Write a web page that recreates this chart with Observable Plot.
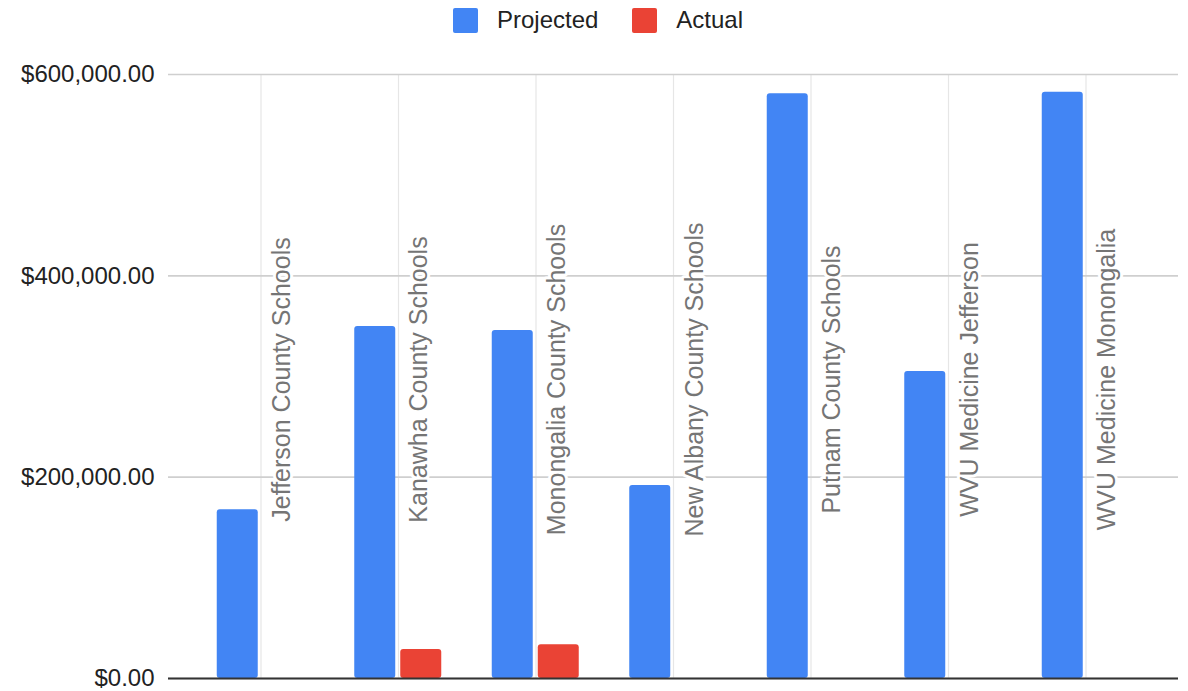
<!DOCTYPE html>
<html>
<head>
<meta charset="utf-8">
<script src="https://cdn.jsdelivr.net/npm/d3@7"></script>
<script src="https://cdn.jsdelivr.net/npm/@observablehq/plot@0.6"></script>
<style>
  html, body { margin: 0; padding: 0; background: #fff; }
  #legend { height: 40px; overflow: hidden; }
  #legend .lg-swatches { display: flex; justify-content: center; align-items: center; margin: 0; padding-left: 8px; min-height: 40px; height: 40px; font: 24px "Liberation Sans", Arial, sans-serif; color: #222; }
  #legend .lg-swatch { margin-right: 34px; align-items: center; }
  #legend .lg-swatch:last-child { margin-right: 0; }
  #legend .lg-swatch > svg { margin-right: 19px; }
  #legend .lg-swatch > svg rect { rx: 2px; }
  #chart svg { display: block; }
</style>
</head>
<body>
<div id="legend"></div>
<div id="chart"></div>
<script>
const categories = [
  "Jefferson County Schools",
  "Kanawha County Schools",
  "Monongalia County Schools",
  "New Albany County Schools",
  "Putnam County Schools",
  "WVU Medicine Jefferson",
  "WVU Medicine Monongalia"
];
const projected = [167600, 349700, 345700, 191700, 580800, 305000, 582400];
const actual = [null, 28800, 33500, null, null, null, null];
const seriesNames = ["Projected", "Actual"];
const seriesColors = ["#4285F4", "#EA4335"];
const yTicks = [0, 200000, 400000, 600000];

const projRows = categories.map((c, i) => ({category: c, value: projected[i]}));
const actRows = categories.map((c, i) => ({category: c, value: actual[i]}));

const legend = Plot.legend({
  color: {type: "ordinal", domain: seriesNames, range: seriesColors},
  legend: "swatches",
  swatchSize: 25,
  className: "lg"
});
document.getElementById("legend").appendChild(legend);

const chart = Plot.plot({
  width: 1188,
  height: 651,
  marginTop: 34,
  marginBottom: 13,
  marginLeft: 168,
  marginRight: 10,
  style: {fontFamily: "'Liberation Sans', Arial, sans-serif", fontSize: "24px", color: "#222", background: "#fff"},
  x: {domain: categories, type: "band", paddingInner: 0, paddingOuter: 0.1727, round: false, axis: null},
  y: {domain: [0, 600000], axis: null, label: null},
  marks: [
    Plot.gridX(categories, {stroke: "#e6e6e6", strokeOpacity: 1, strokeWidth: 1.2}),
    Plot.gridY(yTicks, {stroke: "#cfcfcf", strokeOpacity: 1, strokeWidth: 1.6}),
    Plot.axisY(yTicks, {tickFormat: d3.format("$,.2f"), tickSize: 0, tickPadding: 14, fontSize: 24, fill: "#222", label: null}),
    Plot.barY(projRows, {x: "category", y: "value", fill: seriesColors[0], insetLeft: 25, insetRight: 71.5, rx: 3}),
    Plot.barY(actRows, {x: "category", y: "value", fill: seriesColors[1], insetLeft: 71, insetRight: 25.5, rx: 3}),
    Plot.text(categories, {x: d => d, frameAnchor: "middle", rotate: -90, dx: 21, dy: 3, fill: "#757575", stroke: "white", strokeWidth: 6, fontSize: 25}),
    Plot.ruleY([0], {stroke: "#333", strokeWidth: 2})
  ]
});
document.getElementById("chart").appendChild(chart);
</script>
</body>
</html>
